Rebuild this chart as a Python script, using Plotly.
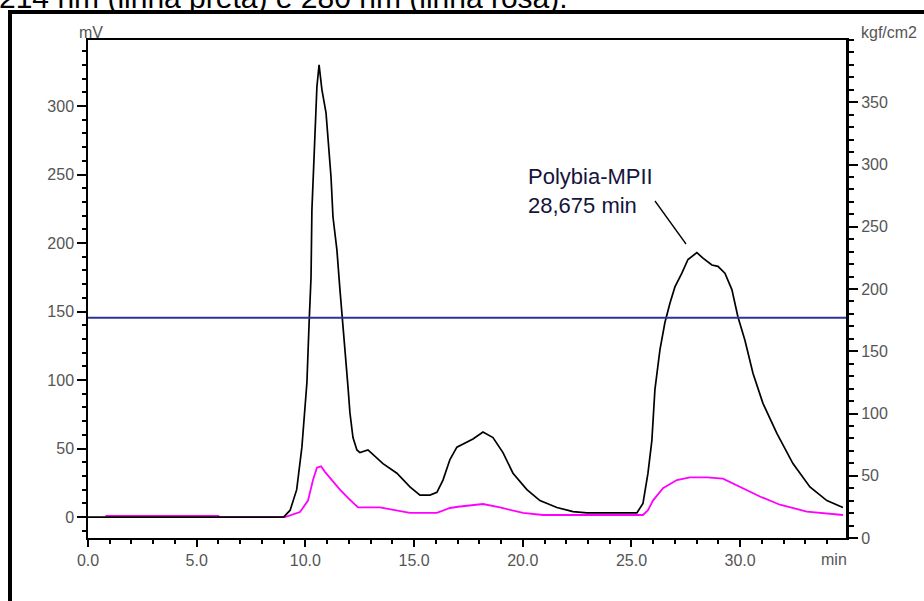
import plotly.graph_objects as go

# ---------------- data ----------------
black_t = [0.0, 9.0, 9.3, 9.6, 9.84, 9.98, 10.07, 10.17, 10.26, 10.30, 10.44, 10.53, 10.63,
           10.76, 10.95, 11.04, 11.18, 11.27, 11.45, 11.59, 11.68, 11.82, 11.96, 12.05,
           12.19, 12.37, 12.51, 12.88, 13.57, 14.21, 14.81, 15.27, 15.73, 16.05, 16.33,
           16.65, 16.97, 17.43, 17.71, 18.17, 18.63, 19.09, 19.55, 20.19, 20.79, 21.57,
           22.31, 22.95, 25.25, 25.53, 25.76, 25.94, 26.08, 26.31, 26.54, 26.77, 27.0,
           27.32, 27.60, 28.01, 28.29, 28.70, 28.98, 29.30, 29.62, 29.90, 30.22, 30.59,
           31.05, 31.69, 32.43, 33.21, 33.99, 34.73]
black_mv = [0, 0, 5, 20, 51, 83, 98, 141, 175, 224, 275, 314, 330,
            312, 295, 275, 248, 219, 195, 166, 146, 122, 95, 76,
            58, 49, 47, 49, 39, 32, 22, 16, 16, 18, 27,
            42, 51, 55, 57, 62, 58, 47, 32, 20, 12, 7,
            4, 3, 3, 10, 32, 56, 93, 122, 142, 156, 168,
            178, 188, 193, 189, 184, 183, 178, 166, 146, 129, 105,
            83, 61, 39, 22, 12, 7]

pink_t = [0.8, 6.0, 6.05, 9.06, 9.75, 10.12, 10.35, 10.53, 10.72, 10.9, 11.22, 11.59, 11.96,
          12.42, 13.43, 14.21, 14.81, 16.05, 16.65, 17.02, 18.17, 18.95, 20.01, 20.93,
          25.53, 25.76, 25.99, 26.45, 27.09, 27.69, 28.47, 29.21, 29.99, 30.91, 31.83,
          33.07, 34.73]
pink_mv = [0.8, 0.8, 0, 0, 3.6, 12, 27, 36, 37, 33, 27, 20, 14,
           7, 7, 5, 3, 3, 6.6, 7.5, 9.5, 7, 3, 1.5,
           1.5, 5, 12, 21, 27, 29, 29, 28, 22, 15, 9,
           4, 1.5]

pressure_t = [0.0, 34.87]
pressure_kgf = [177, 177]

x_ticks = [0, 5, 10, 15, 20, 25, 30]
mv_ticks = [0, 50, 100, 150, 200, 250, 300]
kgf_ticks = [0, 50, 100, 150, 200, 250, 300, 350]

# ---------------- layout helpers (pixel -> paper) ----------------
L, R, T, B = 88, 846, 40, 538
def px(x):
    return (x - L) / (R - L)
def py(y):
    return (B - y) / (B - T)

tickfont = dict(family="Liberation Sans, Arial", size=16, color="#555555")

fig = go.Figure()
fig.add_trace(go.Scatter(x=pressure_t, y=pressure_kgf, mode="lines", yaxis="y2",
                         line=dict(color="#30309a", width=2), showlegend=False))
fig.add_trace(go.Scatter(x=pink_t, y=pink_mv, mode="lines",
                         line=dict(color="#ff00ff", width=1.8), showlegend=False))
fig.add_trace(go.Scatter(x=black_t, y=black_mv, mode="lines",
                         line=dict(color="#000000", width=1.7), showlegend=False))

fig.update_layout(
    width=924, height=601,
    margin=dict(l=L, r=924 - R, t=T, b=601 - B, pad=0, autoexpand=False),
    paper_bgcolor="white", plot_bgcolor="white",
    xaxis=dict(range=[0, 34.87], tickvals=x_ticks, tickformat=".1f", automargin=False,
               showgrid=False, zeroline=False, showline=True, linecolor="black",
               linewidth=1.5, mirror=True, ticks="outside", ticklen=7, tickwidth=1.5,
               tickcolor="black", tickfont=tickfont,
               minor=dict(dtick=1, tick0=0, ticks="outside", ticklen=4, tickwidth=1.5,
                          tickcolor="black", showgrid=False)),
    yaxis=dict(range=[-15.3, 348.2], tickvals=mv_ticks, showgrid=False, zeroline=False,
               automargin=False,
               showline=True, linecolor="black", linewidth=1.5, ticks="outside",
               ticklen=9, tickwidth=1.5, tickcolor="black", tickfont=tickfont,
               minor=dict(dtick=10, tick0=0, ticks="outside", ticklen=4, tickwidth=1.5,
                          tickcolor="black", showgrid=False)),
    yaxis2=dict(range=[0, 400], tickvals=kgf_ticks, overlaying="y", side="right",
                automargin=False,
                showgrid=False, zeroline=False, showline=True, linecolor="black",
                linewidth=3, ticks="outside", ticklen=9, tickwidth=1.5, tickcolor="black",
                tickfont=tickfont,
                minor=dict(dtick=10, tick0=0, ticks="outside", ticklen=5, tickwidth=1.5,
                           tickcolor="black", showgrid=False)),
    shapes=[dict(type="rect", xref="paper", yref="paper",
                 x0=px(10), x1=px(1000), y0=py(12), y1=py(700),
                 line=dict(color="black", width=4), fillcolor="rgba(0,0,0,0)"),
            dict(type="line", xref="paper", yref="paper",
                 x0=px(655), y0=py(201), x1=px(686), y1=py(244),
                 line=dict(color="black", width=1.3))],
    annotations=[
        dict(text="214 nm (linha preta) e 280 nm (linha rosa).", xref="paper", yref="paper",
             x=px(-3), y=py(16), xanchor="left", yanchor="bottom", showarrow=False,
             font=dict(family="Liberation Sans, Arial", size=30, color="black")),
        dict(text="mV", xref="paper", yref="paper", x=px(91), y=py(32), xanchor="center",
             yanchor="middle", showarrow=False, font=tickfont),
        dict(text="kgf/cm2", xref="paper", yref="paper", x=px(889), y=py(32),
             xanchor="center", yanchor="middle", showarrow=False, font=tickfont),
        dict(text="min", xref="paper", yref="paper", x=px(849), y=py(559),
             xanchor="right", yanchor="middle", showarrow=False, font=tickfont),
        dict(text="Polybia-MPII<br>28,675 min", xref="paper", yref="paper",
             x=px(526), y=py(162), xanchor="left", yanchor="top", align="left",
             showarrow=False,
             font=dict(family="Liberation Sans, Arial", size=22, color="#14143c")),
    ],
)

fig.write_html("out.html", config={"displayModeBar": False},
               post_script="document.body.style.margin='0';document.body.style.padding='0';")
